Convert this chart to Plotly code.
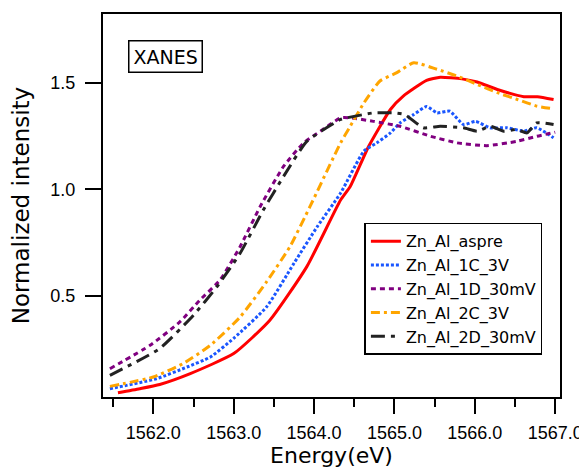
import plotly.graph_objects as go

# Zn_Al_aspre
e_aspre = [1561.56, 1561.83, 1562.08, 1562.46, 1563.0, 1563.45, 1563.91, 1564.33, 1564.45, 1564.68,
           1564.95, 1565.11, 1565.40, 1565.57, 1565.84, 1566.03, 1566.28, 1566.61, 1566.78, 1566.98]
v_aspre = [0.044, 0.063, 0.083, 0.134, 0.228, 0.385, 0.637, 0.95, 1.014, 1.203,
           1.376, 1.439, 1.513, 1.528, 1.52, 1.505, 1.47, 1.436, 1.436, 1.423]

# Zn_Al_1C_3V
e_1c = [1561.46, 1562.04, 1562.42, 1562.71, 1563.0, 1563.41, 1563.75, 1564.04, 1564.33, 1564.62,
        1564.78, 1564.95, 1565.07, 1565.24, 1565.40, 1565.53, 1565.69, 1565.86, 1566.01, 1566.19,
        1566.40, 1566.61, 1566.77, 1566.98]
v_1c = [0.063, 0.11, 0.165, 0.212, 0.30, 0.448, 0.653, 0.825, 0.983, 1.18,
        1.219, 1.266, 1.313, 1.352, 1.39, 1.36, 1.368, 1.305, 1.32, 1.29,
        1.29, 1.274, 1.29, 1.243]

# Zn_Al_1D_30mV
e_1d = [1561.46, 1561.96, 1562.33, 1562.58, 1562.83, 1563.08, 1563.33, 1563.62, 1563.87, 1564.08,
        1564.33, 1564.45, 1564.74, 1565.07, 1565.45, 1565.78, 1566.15, 1566.52, 1566.77, 1567.0]
v_1d = [0.157, 0.267, 0.377, 0.48, 0.574, 0.731, 0.92, 1.108, 1.219, 1.274,
        1.337, 1.337, 1.32, 1.297, 1.25, 1.219, 1.206, 1.226, 1.25, 1.269]

# Zn_Al_2C_3V
e_2c = [1561.46, 1562.0, 1562.37, 1562.71, 1563.08, 1563.41, 1563.70, 1563.95, 1564.33, 1564.45,
        1564.62, 1564.82, 1565.03, 1565.24, 1565.53, 1565.78, 1566.03, 1566.28, 1566.53, 1566.77, 1566.98]
v_2c = [0.074, 0.118, 0.181, 0.267, 0.40, 0.566, 0.731, 0.92, 1.219, 1.297,
        1.407, 1.51, 1.549, 1.596, 1.565, 1.533, 1.494, 1.455, 1.423, 1.392, 1.379]

# Zn_Al_2D_30mV
e_2d = [1561.46, 1562.08, 1562.5, 1562.79, 1563.08, 1563.37, 1563.62, 1563.91, 1564.33, 1564.41,
        1564.74, 1564.99, 1565.13, 1565.36, 1565.57, 1565.86, 1566.03, 1566.19, 1566.36, 1566.52,
        1566.65, 1566.77, 1566.98]
v_2d = [0.126, 0.252, 0.409, 0.542, 0.70, 0.904, 1.061, 1.226, 1.329, 1.337,
        1.36, 1.36, 1.352, 1.29, 1.297, 1.29, 1.274, 1.297, 1.274, 1.282,
        1.266, 1.313, 1.305]

x_tickvals = [1562.0, 1563.0, 1564.0, 1565.0, 1566.0, 1567.0]
x_minorvals = [1561.5, 1562.5, 1563.5, 1564.5, 1565.5, 1566.5]
y_tickvals = [0.5, 1.0, 1.5]

FONT = "DejaVu Sans, sans-serif"
TICKFONT = "Liberation Sans, Arial, sans-serif"

series = [
    ("Zn_Al_aspre", e_aspre, v_aspre, "#ff0000", "solid"),
    ("Zn_Al_1C_3V", e_1c, v_1c, "#1a56ff", "3px,2px"),
    ("Zn_Al_1D_30mV", e_1d, v_1d, "#800080", "5px,4px"),
    ("Zn_Al_2C_3V", e_2c, v_2c, "#ffa500", "9px,4px,3px,4px"),
    ("Zn_Al_2D_30mV", e_2d, v_2d, "#222222", "14px,6px,4px,6px"),
]

fig = go.Figure()
for name, xs, ys, col, dash in series:
    fig.add_trace(go.Scatter(x=xs, y=ys, mode="lines", name=name,
                             line=dict(color=col, width=3, dash=dash, shape="spline", smoothing=0.5)))

# page body has an 8px default margin: the figure is sized to the visible area
fig.update_layout(
    width=579, height=460,
    margin=dict(l=95, r=27, t=6, b=71),
    plot_bgcolor="white", paper_bgcolor="white",
    font=dict(family=FONT, color="black", size=16),
    showlegend=True,
    legend=dict(x=0.572, y=0.455, xanchor="left", yanchor="top",
                bordercolor="black", borderwidth=1.5, bgcolor="white",
                font=dict(size=16, family=FONT), tracegroupgap=0),
    annotations=[dict(text="XANES", x=0.1357, y=0.890, xref="paper", yref="paper",
                      xanchor="center", yanchor="middle",
                      showarrow=False, font=dict(size=19, family=FONT),
                      bordercolor="black", borderwidth=1.5, borderpad=4, bgcolor="white")],
)
fig.update_xaxes(range=[1561.374, 1567.06], showgrid=False, zeroline=False, automargin=False,
                 showline=True, linecolor="black", linewidth=2, mirror=True,
                 ticks="outside", ticklen=15, tickwidth=2, tickcolor="black",
                 tickvals=x_tickvals, ticktext=[f"{v:.1f}" for v in x_tickvals],
                 tickfont=dict(size=18, family=TICKFONT), ticklabelstandoff=3,
                 minor=dict(tickvals=x_minorvals,
                            ticks="outside", ticklen=8, tickwidth=2, tickcolor="black"),
                 title=dict(text="Energy(eV)", font=dict(size=22), standoff=12))
fig.update_yaxes(range=[0.024, 1.825], showgrid=False, zeroline=False, automargin=False,
                 showline=True, linecolor="black", linewidth=2, mirror=True,
                 ticks="outside", ticklen=16, tickwidth=2, tickcolor="black",
                 tickvals=y_tickvals, ticktext=[f"{v:.1f}" for v in y_tickvals],
                 tickfont=dict(size=18, family=TICKFONT), ticklabelstandoff=6,
                 title=dict(text="Normalized intensity", font=dict(size=23), standoff=14))

fig.write_html("out.html")
